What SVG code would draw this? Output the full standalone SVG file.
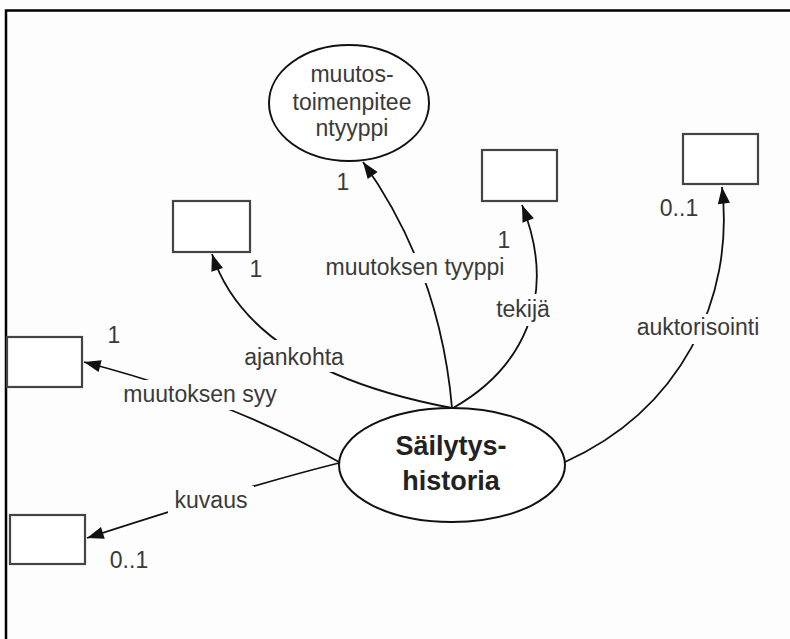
<svg xmlns="http://www.w3.org/2000/svg" width="790" height="639" viewBox="0 0 790 639">
<style>
.lbl{font-family:"Liberation Sans",Arial,sans-serif;font-size:23px;fill:#3a3a3a}
.ttl{font-family:"Liberation Sans",Arial,sans-serif;font-size:27px;font-weight:bold;fill:#222}
.box{fill:#fff;stroke:#444;stroke-width:2.2}
.ell{fill:#fff;stroke:#111;stroke-width:2}
.con{fill:none;stroke:#111;stroke-width:1.8}
.mask{fill:#fdfdfd}
</style>
<defs>
<marker id="arr" markerUnits="userSpaceOnUse" markerWidth="20" markerHeight="20" refX="0" refY="0" viewBox="-16 -8 18 16" orient="auto">
<path d="M0,0 L-15,-5.5 L-15,5.5 Z" fill="#111"/>
</marker>
</defs>
<rect x="0" y="0" width="790" height="639" fill="#fdfdfd"/>
<path d="M6,639 V10.5 H790" fill="none" stroke="#000" stroke-width="2.5"/>
<g id="connectors">
<path class="con" d="M452,408 Q250,370 212,254" marker-end="url(#arr)"/>
<path class="con" d="M452,408 Q440,270 363,162" marker-end="url(#arr)"/>
<path class="con" d="M453,408 C520,370 560,300 522,205" marker-end="url(#arr)"/>
<path class="con" d="M565,462 C680,410 735,300 722,187" marker-end="url(#arr)"/>
<path class="con" d="M339,462 Q230,400 84,362" marker-end="url(#arr)"/>
<path class="con" d="M339,463 Q250,485 87,538" marker-end="url(#arr)"/>
</g>
<g id="labels">
<rect class="mask" x="238" y="340" width="112" height="32"/>
<text class="lbl" x="294" y="365" text-anchor="middle">ajankohta</text>
<rect class="mask" x="328" y="253" width="174" height="30"/>
<text class="lbl" x="415" y="275" text-anchor="middle">muutoksen tyyppi</text>
<rect class="mask" x="496" y="294" width="56" height="32"/>
<text class="lbl" x="523" y="317" text-anchor="middle">tekijä</text>
<rect class="mask" x="632" y="314" width="132" height="30"/>
<text class="lbl" x="698" y="335" text-anchor="middle">auktorisointi</text>
<rect class="mask" x="118" y="380" width="166" height="30"/>
<text class="lbl" x="200" y="402" text-anchor="middle">muutoksen syy</text>
<rect class="mask" x="168" y="486" width="86" height="30"/>
<text class="lbl" x="211" y="508" text-anchor="middle">kuvaus</text>
<text class="lbl" x="343" y="190" text-anchor="middle">1</text>
<text class="lbl" x="256" y="277" text-anchor="middle">1</text>
<text class="lbl" x="504" y="248" text-anchor="middle">1</text>
<text class="lbl" x="679" y="216" text-anchor="middle">0..1</text>
<text class="lbl" x="114" y="343" text-anchor="middle">1</text>
<text class="lbl" x="129" y="568" text-anchor="middle">0..1</text>
</g>
<g id="node-muutostoimenpiteentyyppi">
<ellipse class="ell" cx="349" cy="103" rx="80" ry="58"/>
<text class="lbl" x="352" y="82" text-anchor="middle">muutos-</text>
<text class="lbl" x="352" y="110" text-anchor="middle">toimenpitee</text>
<text class="lbl" x="352" y="136" text-anchor="middle">ntyyppi</text>
</g>
<g id="node-sailytyshistoria">
<ellipse class="ell" cx="452" cy="465" rx="113" ry="57"/>
<text class="ttl" x="451" y="455" text-anchor="middle">Säilytys-</text>
<text class="ttl" x="451" y="490" text-anchor="middle">historia</text>
</g>
<g id="node-ajankohta"><rect class="box" x="173" y="201" width="77" height="51"/></g>
<g id="node-tekija"><rect class="box" x="482" y="150" width="75" height="51"/></g>
<g id="node-auktorisointi"><rect class="box" x="683" y="134" width="75" height="50"/></g>
<g id="node-muutoksensyy"><rect class="box" x="7" y="337" width="75" height="50"/></g>
<g id="node-kuvaus"><rect class="box" x="10" y="515" width="75" height="49"/></g>
</svg>
